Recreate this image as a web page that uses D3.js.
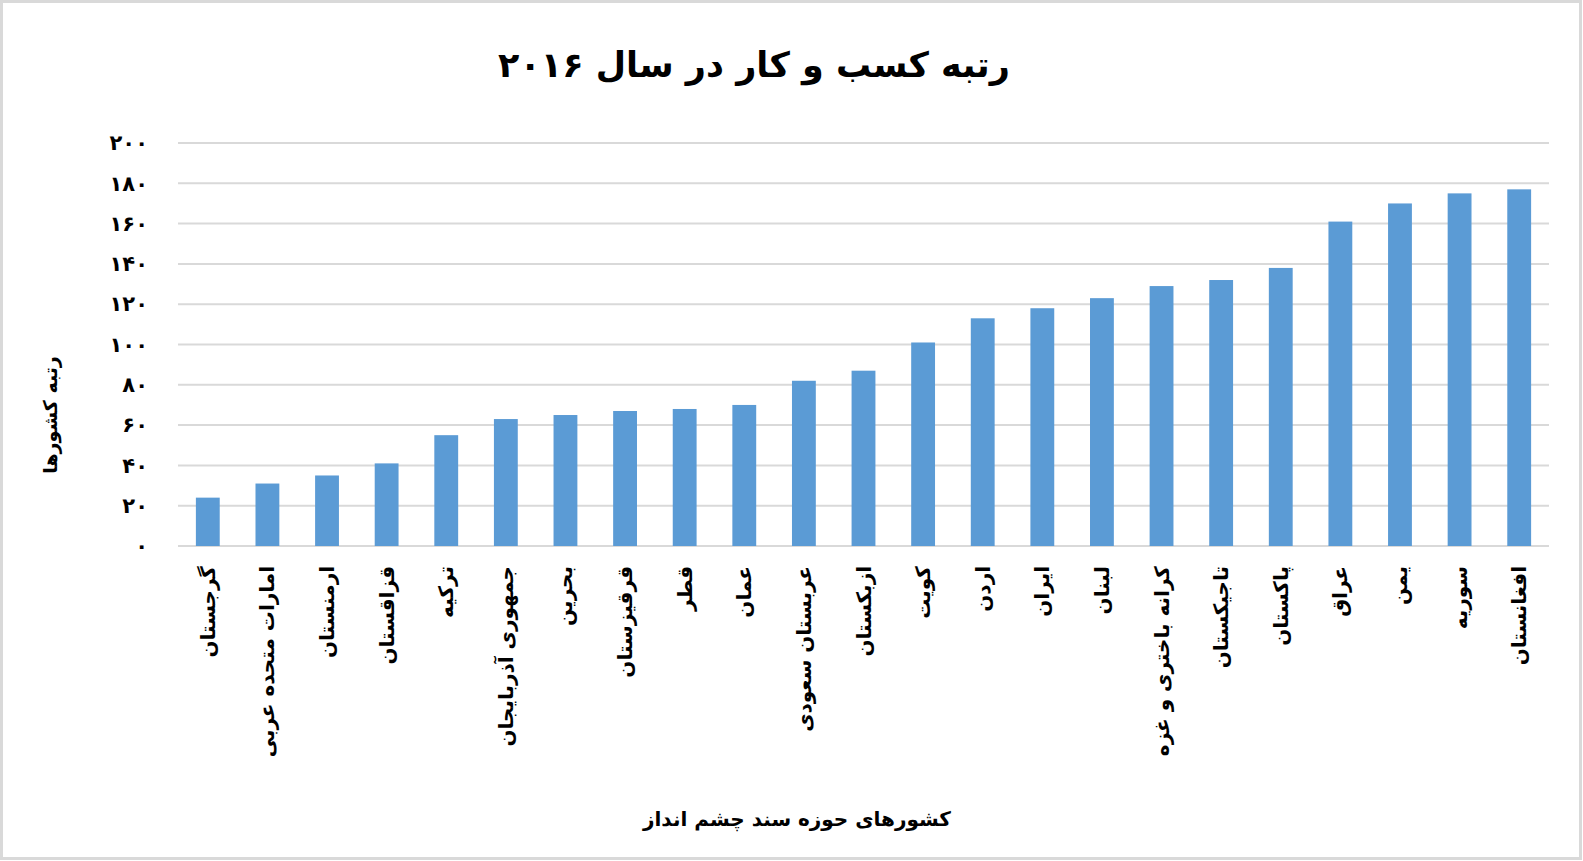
<!DOCTYPE html>
<html lang="fa">
<head>
<meta charset="utf-8">
<script src="https://cdn.jsdelivr.net/npm/d3@7"></script>
<style>
  html, body { margin: 0; padding: 0; background: #fff; }
  svg { display: block; font-family: "DejaVu Sans", sans-serif; }
</style>
</head>
<body>
<script>
// chart data
const countries = [
  'گرجستان', 'امارات متحده عربی', 'ارمنستان', 'قزاقستان', 'ترکیه',
  'جمهوری آذربایجان', 'بحرین', 'قرقیزستان', 'قطر', 'عمان',
  'عربستان سعودی', 'ازبکستان', 'کویت', 'اردن', 'ایران', 'لبنان',
  'کرانه باختری و غزه', 'تاجیکستان', 'پاکستان', 'عراق', 'یمن',
  'سوریه', 'افغانستان'
];
const ranks = [24, 31, 35, 41, 55, 63, 65, 67, 68, 70, 82, 87, 101, 113,
               118, 123, 129, 132, 138, 161, 170, 175, 177];
const yTicks = [0, 20, 40, 60, 80, 100, 120, 140, 160, 180, 200];
const yTickLabels = ['۰', '۲۰', '۴۰', '۶۰', '۸۰', '۱۰۰', '۱۲۰', '۱۴۰', '۱۶۰', '۱۸۰', '۲۰۰'];
const title = 'رتبه کسب و کار در سال ۲۰۱۶';
const yTitle = 'رتبه کشورها';
const xTitle = 'کشورهای حوزه سند چشم انداز';

const width = 1583;
const height = 861;
const margin = { top: 143, right: 34, bottom: 315, left: 178 };

const svg = d3.select('body').append('svg')
    .attr('width', width)
    .attr('height', height);

// outer frame
svg.append('rect')
    .attr('x', 1.5).attr('y', 1.5)
    .attr('width', width - 4).attr('height', height - 4)
    .attr('fill', '#fff')
    .attr('stroke', '#d9d9d9')
    .attr('stroke-width', 3);

const x = d3.scaleBand()
    .domain(countries)
    .range([margin.left, width - margin.right])
    .paddingInner(0.6)
    .paddingOuter(0.3);

const y = d3.scaleLinear()
    .domain([0, 200])
    .range([height - margin.bottom, margin.top]);

// gridlines
svg.append('g')
    .selectAll('line')
    .data(yTicks)
    .join('line')
    .attr('x1', margin.left)
    .attr('x2', width - margin.right)
    .attr('y1', d => y(d))
    .attr('y2', d => y(d))
    .attr('stroke', '#d9d9d9')
    .attr('stroke-width', 2);

// y axis labels
const yAxis = d3.axisLeft(y)
    .tickValues(yTicks)
    .tickSize(0)
    .tickPadding(30)
    .tickFormat((d, i) => yTickLabels[i]);

svg.append('g')
    .attr('transform', `translate(${margin.left},0)`)
    .call(yAxis)
    .call(g => g.select('.domain').remove())
    .selectAll('text')
    .attr('font-family', '"DejaVu Sans", sans-serif')
    .attr('font-size', 21)
    .attr('font-weight', 'bold')
    .attr('letter-spacing', 6)
    .attr('fill', '#000');

// bars
svg.append('g')
    .selectAll('rect')
    .data(ranks)
    .join('rect')
    .attr('x', (d, i) => x(countries[i]))
    .attr('y', d => y(d))
    .attr('width', x.bandwidth())
    .attr('height', d => y(0) - y(d))
    .attr('fill', '#5b9bd5');

// x axis labels
const xAxis = d3.axisBottom(x).tickSize(0).tickPadding(0);

svg.append('g')
    .attr('transform', `translate(0,${y(0)})`)
    .call(xAxis)
    .call(g => g.select('.domain').remove())
    .selectAll('text')
    .attr('font-family', '"DejaVu Sans", sans-serif')
    .attr('font-size', 20)
    .attr('font-weight', 'bold')
    .attr('fill', '#000')
    .attr('text-anchor', 'end')
    .attr('transform', 'translate(0,20) rotate(-90)')
    .attr('x', 0)
    .attr('y', 0)
    .attr('dy', '0.35em');

// titles
svg.append('text')
    .attr('x', 754)
    .attr('y', 77)
    .attr('text-anchor', 'middle')
    .attr('font-size', 35)
    .attr('font-weight', 'bold')
    .attr('fill', '#000')
    .text(title);

svg.append('text')
    .attr('transform', 'translate(50,415) rotate(-90)')
    .attr('text-anchor', 'middle')
    .attr('dy', '0.35em')
    .attr('font-size', 19)
    .attr('font-weight', 'bold')
    .attr('fill', '#000')
    .text(yTitle);

svg.append('text')
    .attr('x', 797)
    .attr('y', 826)
    .attr('text-anchor', 'middle')
    .attr('font-size', 20)
    .attr('font-weight', 'bold')
    .attr('fill', '#000')
    .text(xTitle);
</script>
</body>
</html>
